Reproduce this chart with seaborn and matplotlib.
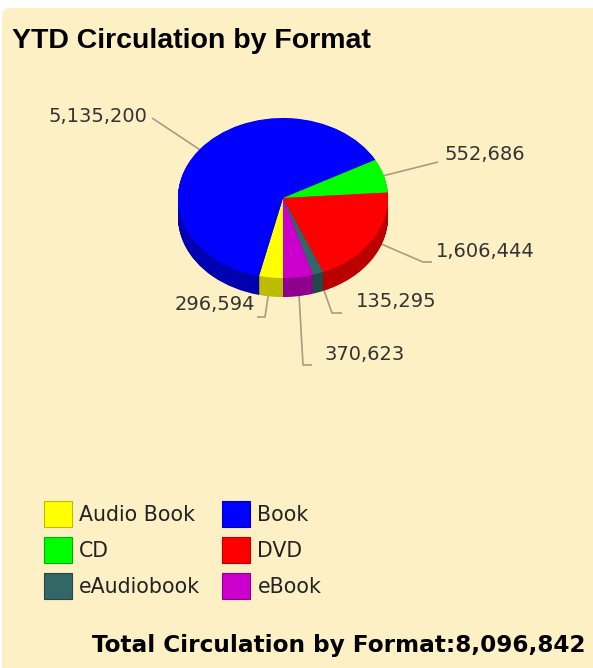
import numpy as np
import pandas as pd
import matplotlib
matplotlib.use("Agg")
import matplotlib.pyplot as plt
import seaborn as sns
from matplotlib.patches import Patch, FancyBboxPatch

# ---------------- data ----------------
categories = ["Audio Book", "Book", "CD", "DVD", "eAudiobook", "eBook"]
values = [296594, 5135200, 552686, 1606444, 135295, 370623]
top_colors = ["#FFFF00", "#0000FF", "#00FF00", "#FF0000", "#336666", "#CC00CC"]
side_colors = ["#BDBD00", "#0000B0", "#00B000", "#BB0000", "#224848", "#8F008F"]
title = "YTD Circulation by Format"
total_label = "Total Circulation by Format:"

df = pd.DataFrame({"format": categories, "circ": values})

# ---------------- layout (pixels, from top-left) ----------------
W, H = 593, 668
CX, CY, RX, RY = 283, 198, 105, 80
DEPTH = 19
BG = "#FDF0C4"
LINE_C = "#A89C82"
TEXT_C = "#333333"

label_layout = {
    "Book":       dict(path=[(152, 118)], text=(147, 117), ha="right"),
    "CD":         dict(path=[(438, 162)], text=(444, 155), ha="left"),
    "DVD":        dict(path=[(423, 262), (432, 262)], text=(436, 252), ha="left"),
    "eAudiobook": dict(path=[(332, 313), (342, 313)], text=(356, 302), ha="left"),
    "eBook":      dict(path=[(303, 365), (312, 365)], text=(325, 355), ha="left"),
    "Audio Book": dict(path=[(265, 317), (257, 317)], text=(255, 305), ha="right"),
}


def to_data(px, py):
    return ((px - CX) / RX, (CY - py) / RY)


sns.set_theme(style="white")
plt.rcParams["font.family"] = ["DejaVu Sans"]

fig = plt.figure(figsize=(W / 100, H / 100), dpi=100, facecolor="white")
fig.patches.append(FancyBboxPatch((2 / W, -0.05), 1.2, 1 - 8 / H + 0.05,
                                  boxstyle="round,pad=0,rounding_size=0.012",
                                  transform=fig.transFigure, facecolor=BG,
                                  edgecolor="none", zorder=-10))

ax = fig.add_axes([0, 0, 1, 1])
ax.set_facecolor("none")

# side of the 3D pie: stacked darker layers
N = 40
d = DEPTH / RY
for k in range(N, 0, -1):
    ax.pie(df["circ"], colors=side_colors, startangle=270, counterclock=False,
           center=(0, -d * k / N), wedgeprops=dict(linewidth=0, zorder=2))

# top face
wedges, _ = ax.pie(df["circ"], colors=top_colors, startangle=270, counterclock=False,
                   center=(0, 0), wedgeprops=dict(linewidth=0, zorder=3))

# leader lines and value labels
for w, cat, v in zip(wedges, categories, values):
    th = np.deg2rad((w.theta1 + w.theta2) / 2)
    ax0 = (np.cos(th), np.sin(th))
    lay = label_layout[cat]
    pts = [ax0] + [to_data(*p) for p in lay["path"]]
    xs, ys = zip(*pts)
    ax.plot(xs, ys, color=LINE_C, lw=1.2, zorder=1, solid_capstyle="butt")
    tx, ty = to_data(*lay["text"])
    ax.text(tx, ty, f"{v:,}", ha=lay["ha"], va="center", fontsize=14,
            color=TEXT_C, zorder=5)

ax.set_aspect("auto")
ax.set_xlim((0 - CX) / RX, (W - CX) / RX)
ax.set_ylim((CY - H) / RY, CY / RY)
ax.axis("off")

# legend (row-major order like the reference)
order = [0, 2, 4, 1, 3, 5]
handles = [Patch(facecolor=top_colors[i], edgecolor=side_colors[i], lw=0.8) for i in order]
labels = [categories[i] for i in order]
ax.legend(handles, labels, ncol=2, loc="upper left",
          bbox_to_anchor=(44 / W, 1 - 501 / H), bbox_transform=fig.transFigure,
          frameon=False, fontsize=14.8, handlelength=1.37, handleheight=1.55,
          handletextpad=0.35, columnspacing=1.05, labelspacing=0.5,
          borderpad=0, borderaxespad=0, labelcolor="#222222")

fig.text(12 / W, 1 - 48 / H, title, fontsize=20.5, weight="bold",
         family=["Liberation Sans"], va="baseline", ha="left", color="black")
fig.text(585 / W, 1 - 652 / H, f"{total_label}{sum(values):,}", fontsize=16.7,
         weight="bold", family=["DejaVu Sans"], va="baseline", ha="right",
         color="black")

fig.savefig("out.png", dpi=100, facecolor=fig.get_facecolor())
